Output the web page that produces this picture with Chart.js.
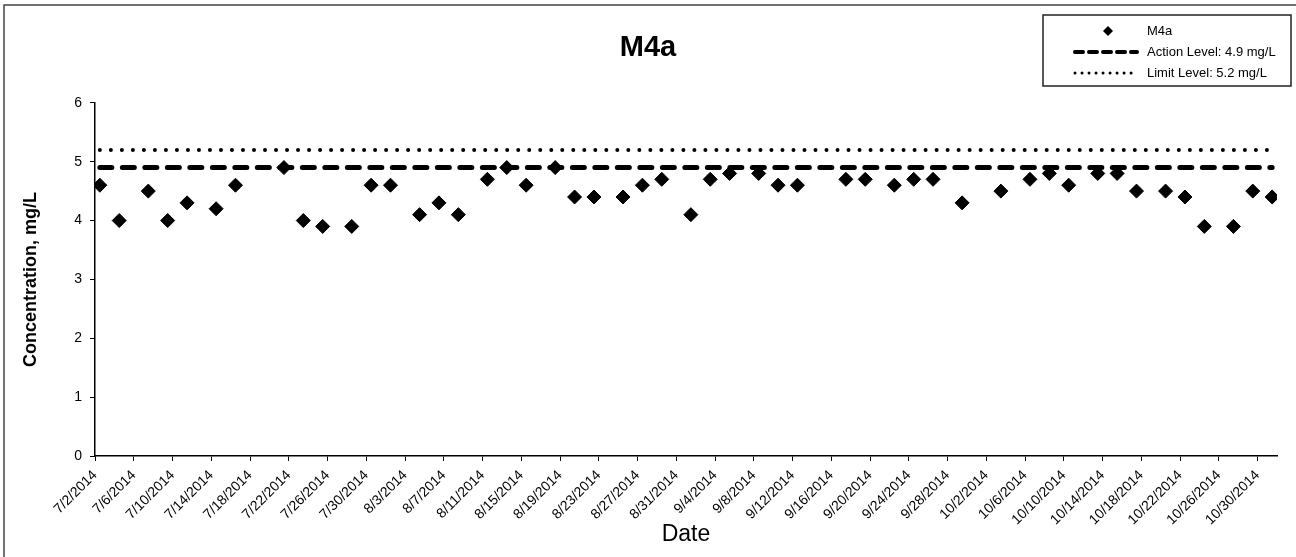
<!DOCTYPE html>
<html>
<head>
<meta charset="utf-8">
<title>M4a</title>
<script src="https://cdn.jsdelivr.net/npm/chart.js@4.4.1/dist/chart.umd.min.js"></script>
<style>
  body { margin: 0; background: #fff; }
  #wrap { width: 1296px; height: 557px; }
</style>
</head>
<body>
<div id="wrap"><canvas id="m4aChart" width="1296" height="557"></canvas></div>
<script>
// sample dates and concentrations (mg/L)
const sampleDates = [
  "7/2/2014", "7/4/2014", "7/7/2014", "7/9/2014", "7/11/2014", "7/14/2014", "7/16/2014",
  "7/21/2014", "7/23/2014", "7/25/2014", "7/28/2014", "7/30/2014", "8/1/2014", "8/4/2014",
  "8/6/2014", "8/8/2014", "8/11/2014", "8/13/2014", "8/15/2014", "8/18/2014", "8/20/2014",
  "8/22/2014", "8/25/2014", "8/27/2014", "8/29/2014", "9/1/2014", "9/3/2014", "9/5/2014",
  "9/8/2014", "9/10/2014", "9/12/2014", "9/17/2014", "9/19/2014", "9/22/2014", "9/24/2014",
  "9/26/2014", "9/29/2014", "10/3/2014", "10/6/2014", "10/8/2014", "10/10/2014", "10/13/2014",
  "10/15/2014", "10/17/2014", "10/20/2014", "10/22/2014", "10/24/2014", "10/27/2014",
  "10/29/2014", "10/31/2014"
];
const m4aValues = [
  4.6, 4.0, 4.5, 4.0, 4.3, 4.2, 4.6,
  4.9, 4.0, 3.9, 3.9, 4.6, 4.6, 4.1,
  4.3, 4.1, 4.7, 4.9, 4.6, 4.9, 4.4,
  4.4, 4.4, 4.6, 4.7, 4.1, 4.7, 4.8,
  4.8, 4.6, 4.6, 4.7, 4.7, 4.6, 4.7,
  4.7, 4.3, 4.5, 4.7, 4.8, 4.6, 4.8,
  4.8, 4.5, 4.5, 4.4, 3.9, 3.9,
  4.5, 4.4
];
const actionLevel = 4.9;
const limitLevel = 5.2;

// date axis: first tick, end of axis, tick every 4 days
const axisStart = "7/2/2014";
const axisEnd = "11/1/2014";
const tickStepDays = 4;
const yTicks = [0, 1, 2, 3, 4, 5, 6];

const DAY = 86400000;
const parseDate = (s) => {
  const [m, d, y] = s.split("/").map(Number);
  return Date.UTC(y, m - 1, d);
};
const startMs = parseDate(axisStart);
const dayIndex = (s) => Math.round((parseDate(s) - startMs) / DAY);
const dayLabel = (v) => {
  const dt = new Date(startMs + v * DAY);
  return (dt.getUTCMonth() + 1) + "/" + dt.getUTCDate() + "/" + dt.getUTCFullYear();
};

// Excel date axis puts each point in the middle of its day
const pointData = sampleDates.map((d, i) => ({ x: dayIndex(d) + 0.5, y: m4aValues[i] }));
const firstX = dayIndex(sampleDates[0]) + 0.5;
const lastX = dayIndex(sampleDates[sampleDates.length - 1]) + 0.5;

const FONT = "'Liberation Sans', Arial, Helvetica, sans-serif";

const frame = {
  id: "frame",
  beforeDraw(chart) {
    const ctx = chart.ctx;
    ctx.save();
    ctx.fillStyle = "#fff";
    ctx.fillRect(0, 0, chart.width, chart.height);
    ctx.strokeStyle = "#444";
    ctx.lineWidth = 1.5;
    ctx.beginPath();
    ctx.moveTo(4, chart.height);
    ctx.lineTo(4, 5);
    ctx.lineTo(chart.width, 5);
    ctx.stroke();
    ctx.restore();
  }
};

// boxed legend at the top right
const boxLegend = {
  id: "boxLegend",
  afterDraw(chart) {
    const ctx = chart.ctx;
    const bx = 1043, by = 15, bw = 248, bh = 71;
    ctx.save();
    ctx.fillStyle = "#fff";
    ctx.fillRect(bx, by, bw, bh);
    ctx.strokeStyle = "#222";
    ctx.lineWidth = 1.5;
    ctx.strokeRect(bx, by, bw, bh);
    chart.data.datasets.forEach((ds, i) => {
      const cy = by + 16 + i * 21;
      if (ds.showLine === false) {
        ctx.fillStyle = "#000";
        ctx.beginPath();
        ctx.moveTo(1108, cy - 5);
        ctx.lineTo(1113, cy);
        ctx.lineTo(1108, cy + 5);
        ctx.lineTo(1103, cy);
        ctx.closePath();
        ctx.fill();
      } else {
        ctx.strokeStyle = "#000";
        ctx.lineWidth = ds.legendWidth;
        ctx.lineCap = "round";
        ctx.setLineDash(ds.legendDash);
        ctx.beginPath();
        ctx.moveTo(1075, cy);
        ctx.lineTo(1137, cy);
        ctx.stroke();
        ctx.setLineDash([]);
      }
      ctx.fillStyle = "#000";
      ctx.font = "13px " + FONT;
      ctx.textBaseline = "middle";
      ctx.textAlign = "left";
      ctx.fillText(ds.label, 1147, cy);
    });
    ctx.restore();
  }
};

new Chart(document.getElementById("m4aChart"), {
  type: "scatter",
  data: {
    datasets: [
      {
        label: "M4a",
        data: pointData,
        showLine: false,
        pointStyle: "rectRot",
        pointRadius: 7,
        pointBackgroundColor: "#000",
        pointBorderColor: "#000",
        pointBorderWidth: 1,
      },
      {
        label: "Action Level: 4.9 mg/L",
        data: [{ x: firstX, y: actionLevel }, { x: lastX, y: actionLevel }],
        showLine: true,
        borderColor: "#000",
        borderWidth: 5,
        borderDash: [12, 10.5],
        borderCapStyle: "round",
        pointRadius: 0,
        legendWidth: 4,
        legendDash: [8, 6],
      },
      {
        label: "Limit Level: 5.2 mg/L",
        data: [{ x: firstX, y: limitLevel }, { x: lastX, y: limitLevel }],
        showLine: true,
        borderColor: "#000",
        borderWidth: 4,
        borderDash: [0.01, 11],
        borderCapStyle: "round",
        pointRadius: 0,
        legendWidth: 3,
        legendDash: [0.01, 7],
      },
    ],
  },
  options: {
    responsive: false,
    animation: false,
    events: [],
    layout: { padding: { left: 19, right: 19, top: 0, bottom: 0 } },
    plugins: {
      legend: { display: false },
      tooltip: { enabled: false },
      title: {
        display: true,
        text: "M4a",
        color: "#000",
        font: { family: FONT, size: 29, weight: "bold" },
        padding: { top: 31, bottom: 37 },
      },
    },
    scales: {
      x: {
        type: "linear",
        min: 0,
        max: dayIndex(axisEnd),
        afterFit: (s) => { s.height = 101; },
        grid: { display: true, drawOnChartArea: false, drawTicks: true, tickLength: 5, color: "#000", lineWidth: 1 },
        border: { display: true, color: "#000", width: 1.5 },
        ticks: {
          stepSize: tickStepDays,
          includeBounds: false,
          autoSkip: false,
          minRotation: 45,
          maxRotation: 45,
          padding: 6,
          color: "#000",
          font: { family: FONT, size: 14 },
          callback: (v) => dayLabel(v),
        },
        title: {
          display: true,
          text: "Date",
          color: "#000",
          font: { family: FONT, size: 23 },
          padding: { top: 0, bottom: 9 },
        },
      },
      y: {
        min: yTicks[0],
        max: yTicks[yTicks.length - 1],
        afterFit: (s) => { s.width = 76; },
        grid: { display: true, drawOnChartArea: false, drawTicks: true, tickLength: 5, color: "#000", lineWidth: 1 },
        border: { display: true, color: "#000", width: 1.5 },
        ticks: {
          stepSize: 1,
          padding: 8,
          color: "#000",
          font: { family: FONT, size: 14 },
        },
        afterBuildTicks: (s) => { s.ticks = yTicks.map((v) => ({ value: v })); },
        title: {
          display: true,
          text: "Concentration, mg/L",
          color: "#000",
          font: { family: FONT, size: 18, weight: "bold" },
          padding: { top: 1, bottom: 0 },
        },
      },
    },
  },
  plugins: [frame, boxLegend],
});
</script>
</body>
</html>
